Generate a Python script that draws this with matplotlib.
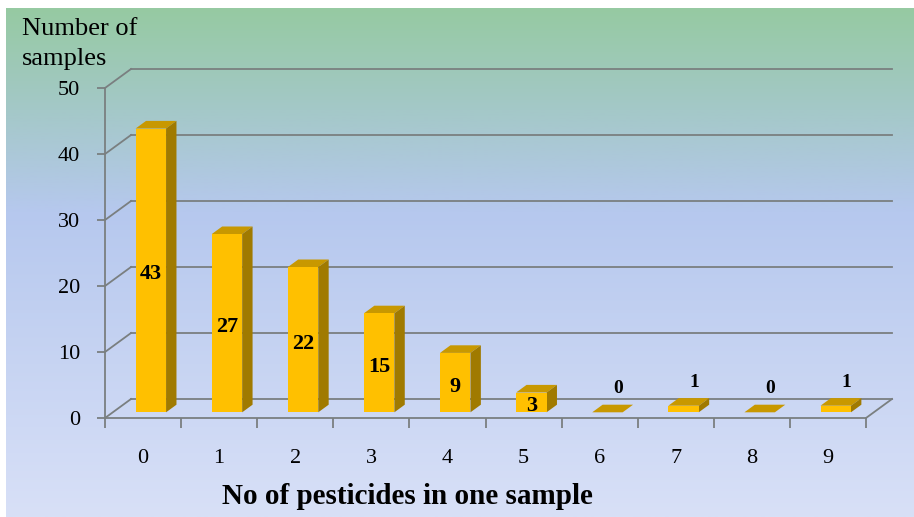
import numpy as np
import matplotlib
matplotlib.use("Agg")
import matplotlib.pyplot as plt
from matplotlib.colors import LinearSegmentedColormap
from matplotlib.patches import Polygon, Rectangle

categories = ["0", "1", "2", "3", "4", "5", "6", "7", "8", "9"]
samples = [43, 27, 22, 15, 9, 3, 0, 1, 0, 1]
y_ticks = [0, 10, 20, 30, 40, 50]

FONT = ["Liberation Serif", "DejaVu Serif"]
GRID = "#7a7f80"
FRONT = "#ffc000"
SIDE = "#a07a00"
TOP = "#c89800"

W, H = 914, 517
fig = plt.figure(figsize=(W / 100, H / 100), dpi=100)
fig.patch.set_facecolor("white")

# gradient backdrop
bg = fig.add_axes([6 / W, 0, 1 - 6 / W, 1 - 8 / H])
cmap = LinearSegmentedColormap.from_list("bg", [
    (0.0, (150 / 255, 202 / 255, 162 / 255)),
    (0.2, (164 / 255, 200 / 255, 200 / 255)),
    (0.4, (182 / 255, 200 / 255, 238 / 255)),
    (1.0, (216 / 255, 224 / 255, 247 / 255)),
])
bg.imshow(np.linspace(0, 1, 256).reshape(-1, 1), aspect="auto", cmap=cmap,
          extent=[0, 1, 1, 0])
bg.set_axis_off()

# front plane of the 3d box
ax = fig.add_axes([105 / W, 99 / H, 761 / W, 330 / H])
ax.set_facecolor("none")
ax.set_xlim(-0.5, 9.5)
ax.set_ylim(0, 50)

DX = 26 / 76.1   # depth offset in category units
DY = 19 / 6.6    # depth offset in value units

for s in ["top", "right"]:
    ax.spines[s].set_visible(False)
for s in ["left", "bottom"]:
    ax.spines[s].set_color(GRID)
    ax.spines[s].set_linewidth(1.3)

ax.set_yticks(y_ticks)
ax.set_yticklabels([str(t) for t in y_ticks])
ax.set_xticks(range(len(categories)))
ax.set_xticklabels(categories)
ax.set_xticks(np.arange(-0.5, 10, 1), minor=True)
ax.tick_params(axis="y", direction="out", length=6, width=1.3, color=GRID,
               pad=12, labelsize=16)
ax.tick_params(axis="x", which="major", length=0, pad=22, labelsize=16)
ax.tick_params(axis="x", which="minor", direction="out", length=7,
               width=1.3, color=GRID)
for lab in ax.get_xticklabels() + ax.get_yticklabels():
    lab.set_family(FONT)

# walls: back grid lines and left diagonals
for t in y_ticks:
    ax.plot([-0.5 + DX, 9.5 + DX], [t + DY, t + DY], color=GRID, lw=1.3,
            clip_on=False, zorder=1)
    ax.plot([-0.5, -0.5 + DX], [t, t + DY], color=GRID, lw=1.3,
            clip_on=False, zorder=1)
ax.plot([9.5, 9.5 + DX], [0, DY], color=GRID, lw=1.3, clip_on=False, zorder=1)

# 3d bars
bw = 0.4
d0, dd = 0.3, 0.4
for i, v in enumerate(samples):
    x0 = i - bw / 2 + d0 * DX
    y0 = d0 * DY
    ox, oy = dd * DX, dd * DY
    top = Polygon([(x0, y0 + v), (x0 + bw, y0 + v), (x0 + bw + ox, y0 + v + oy),
                   (x0 + ox, y0 + v + oy)], closed=True, fc=TOP, ec="none",
                  clip_on=False, zorder=3)
    ax.add_patch(top)
    if v > 0:
        side = Polygon([(x0 + bw, y0), (x0 + bw + ox, y0 + oy),
                        (x0 + bw + ox, y0 + v + oy), (x0 + bw, y0 + v)],
                       closed=True, fc=SIDE, ec="none", clip_on=False, zorder=3)
        ax.add_patch(side)
        ax.add_patch(Rectangle((x0, y0), bw, v, fc=FRONT, ec="none",
                               clip_on=False, zorder=3))
    if v >= 3:
        ax.text(x0 + bw / 2, y0 + v / 2 - 0.6, str(v), ha="center",
                va="center", fontsize=16, fontweight="bold", family=FONT,
                zorder=4)
    else:
        ax.text(x0 + bw / 2 + ox, y0 + v + oy + 2.4, str(v), ha="center",
                va="center", fontsize=14, fontweight="bold", family=FONT,
                zorder=4)

fig.text(22 / W, 1 - 29 / H, "Number of", ha="left", va="center",
         fontsize=19, family=FONT)
fig.text(22 / W, 1 - 59 / H, "samples", ha="left", va="center",
         fontsize=19, family=FONT)
fig.text(407 / W, 1 - 497 / H, "No of pesticides in one sample", ha="center",
         va="center", fontsize=21, fontweight="bold", family=FONT)

fig.savefig("out.png", dpi=100)
